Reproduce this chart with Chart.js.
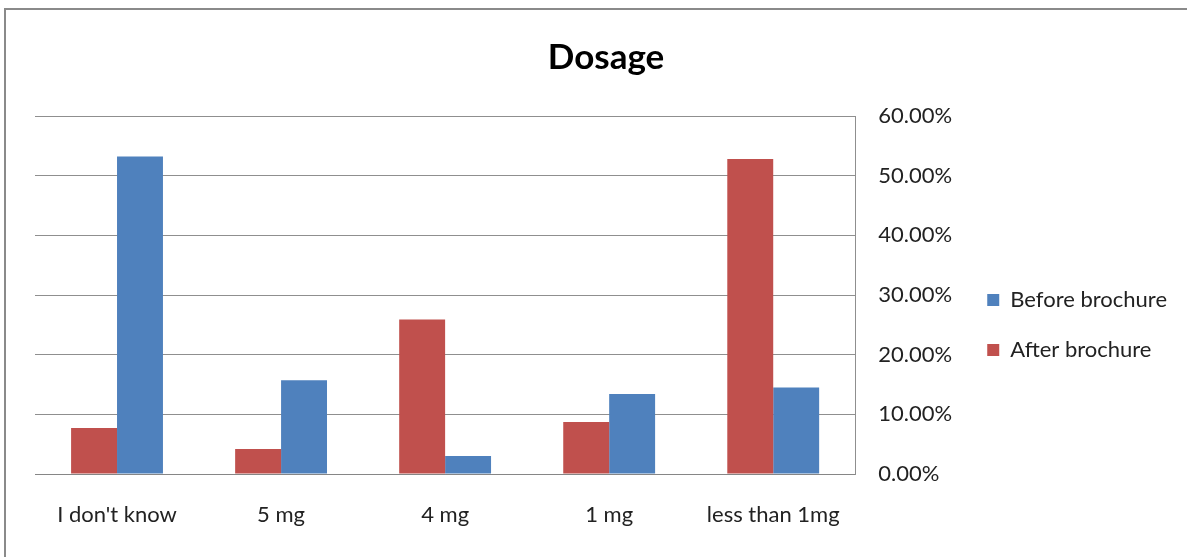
<!DOCTYPE html>
<html>
<head>
<meta charset="utf-8">
<script src="https://cdn.jsdelivr.net/npm/chart.js@4.4.1/dist/chart.umd.min.js"></script>
<style>
  body { margin: 0; background: #fff; }
  #wrap { position: relative; width: 1187px; height: 557px; }
  #frame { position: absolute; left: 4px; top: 8px; right: -10px; bottom: -10px;
           border-left: 2px solid #8a8a8a; border-top: 2px solid #8a8a8a; pointer-events: none; }
</style>
</head>
<body>
<div id="wrap">
  <canvas id="myChart" width="1187" height="557"></canvas>
  <div id="frame"></div>
</div>
<script>
/* values, in percent */
const categories = ["I don't know", "5 mg", "4 mg", "1 mg", "less than 1mg"];
const afterBrochure = [7.7, 4.2, 25.9, 8.7, 52.8];
const beforeBrochure = [53.2, 15.7, 3.0, 13.4, 14.5];
const yTicks = [0, 10, 20, 30, 40, 50, 60];

const ctx = document.getElementById('myChart').getContext('2d');
const myChart = new Chart(ctx, {
    type: 'bar',
    data: {
        labels: categories,
        datasets: [{
            label: 'After brochure',
            data: afterBrochure,
            backgroundColor: '#C0504D'
        }, {
            label: 'Before brochure',
            data: beforeBrochure,
            backgroundColor: '#4F81BD'
        }]
    },
    options: {
        responsive: false,
        animation: false,
        datasets: { bar: { categoryPercentage: 0.56, barPercentage: 1 } },
        layout: { padding: { left: 35, right: 10, top: 0, bottom: 0 } },
        scales: {
            x: {
                grid: { display: false, drawTicks: false },
                border: { display: true, color: '#868686', width: 1 },
                ticks: { color: '#222', padding: 28, font: { family: 'Lato', size: 22 } },
                afterFit: function (scale) { scale.height = 83; }
            },
            y: {
                position: 'right',
                min: 0,
                max: 60,
                afterBuildTicks: function (scale) {
                    scale.ticks = yTicks.map(v => ({ value: v }));
                },
                grid: { color: '#8f8f8f', drawTicks: false },
                border: { display: true, color: '#8f8f8f' },
                ticks: {
                    color: '#222',
                    padding: 23,
                    font: { family: 'Lato', size: 22 },
                    callback: function (value) { return value.toFixed(2) + '%'; }
                },
                afterFit: function (scale) { scale.width = 104; }
            }
        },
        plugins: {
            title: {
                display: true,
                text: 'Dosage',
                color: '#000',
                font: { family: 'Lato', size: 35, weight: 'bold' },
                padding: { top: 37, bottom: 37 }
            },
            legend: {
                position: 'right',
                reverse: true,
                // empty title only pushes the items down to sit beside the plot
                title: { display: true, text: '', font: { size: 10 }, padding: { top: 0, bottom: 81 } },
                labels: {
                    color: '#222',
                    boxWidth: 12,
                    boxHeight: 12,
                    padding: 28,
                    font: { family: 'Lato', size: 22 }
                }
            },
            tooltip: { enabled: false }
        }
    }
});
</script>
</body>
</html>
